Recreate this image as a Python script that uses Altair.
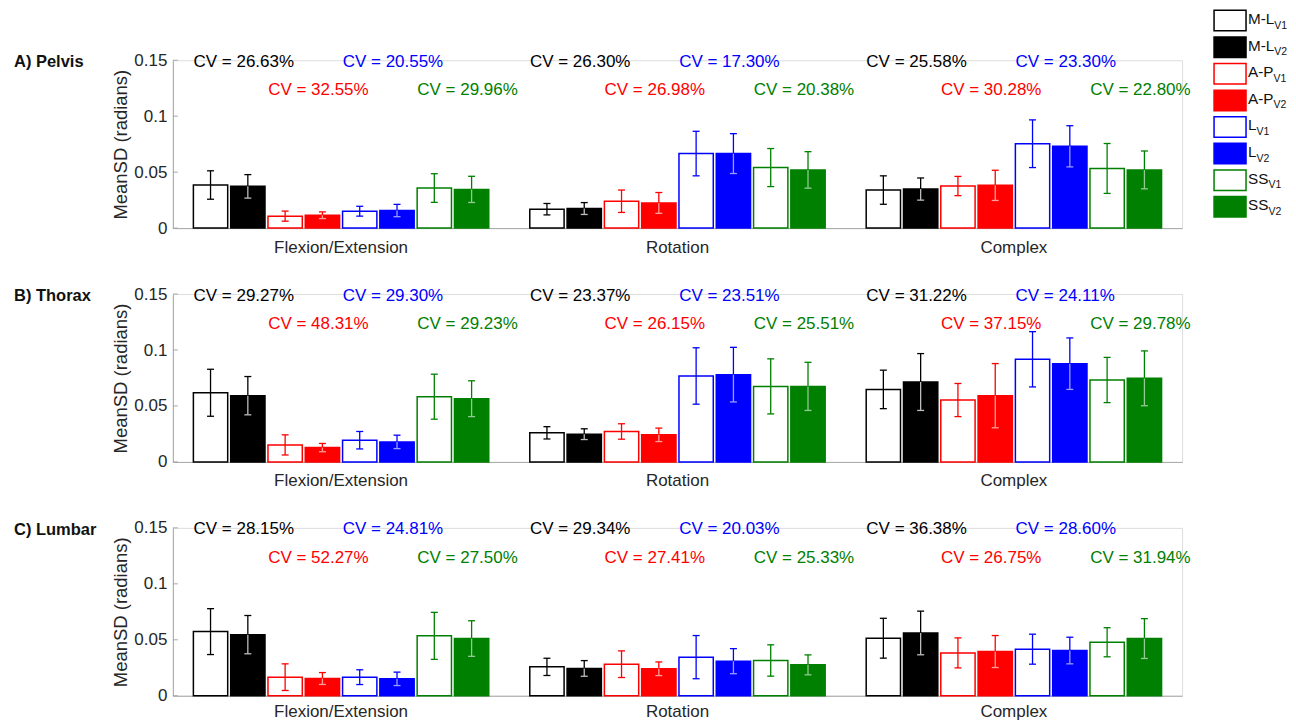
import altair as alt
import pandas as pd

# ---------------- data ----------------
movements = ["Flexion/Extension", "Rotation", "Complex"]
series = ["M-L V1", "M-L V2", "A-P V1", "A-P V2", "L V1", "L V2", "SS V1", "SS V2"]
pairs = ["M-L", "A-P", "L", "SS"]
panel_labels = ["A) Pelvis", "B) Thorax", "C) Lumbar"]
y_ticks = [0, 0.05, 0.1, 0.15]

# mean of MeanSD per movement (rows) x series (cols)
pelvis_mean = [
    [0.0385, 0.0373, 0.0107, 0.0115, 0.0151, 0.0157, 0.0358, 0.0346],
    [0.0169, 0.0175, 0.0240, 0.0225, 0.0666, 0.0666, 0.0541, 0.0520],
    [0.0340, 0.0349, 0.0376, 0.0382, 0.0754, 0.0731, 0.0533, 0.0520],
]
pelvis_sd = [
    [0.0127, 0.0105, 0.0045, 0.0030, 0.0044, 0.0055, 0.0128, 0.0117],
    [0.0051, 0.0053, 0.0100, 0.0093, 0.0199, 0.0178, 0.0170, 0.0163],
    [0.0127, 0.0099, 0.0086, 0.0135, 0.0213, 0.0184, 0.0223, 0.0169],
]
thorax_mean = [
    [0.0618, 0.0592, 0.0152, 0.0128, 0.0194, 0.0179, 0.0583, 0.0565],
    [0.0260, 0.0248, 0.0272, 0.0242, 0.0768, 0.0780, 0.0675, 0.0675],
    [0.0648, 0.0714, 0.0553, 0.0592, 0.0917, 0.0878, 0.0732, 0.0747],
]
thorax_sd = [
    [0.0210, 0.0171, 0.0090, 0.0037, 0.0078, 0.0060, 0.0201, 0.0160],
    [0.0055, 0.0048, 0.0069, 0.0060, 0.0252, 0.0244, 0.0246, 0.0215],
    [0.0172, 0.0254, 0.0148, 0.0287, 0.0247, 0.0230, 0.0202, 0.0245],
]
lumbar_mean = [
    [0.0573, 0.0546, 0.0166, 0.0154, 0.0166, 0.0151, 0.0535, 0.0511],
    [0.0258, 0.0244, 0.0282, 0.0241, 0.0345, 0.0309, 0.0315, 0.0276],
    [0.0514, 0.0561, 0.0383, 0.0395, 0.0416, 0.0404, 0.0478, 0.0511],
]
lumbar_sd = [
    [0.0205, 0.0171, 0.0119, 0.0053, 0.0066, 0.0060, 0.0210, 0.0159],
    [0.0077, 0.0070, 0.0119, 0.0061, 0.0193, 0.0112, 0.0140, 0.0089],
    [0.0178, 0.0195, 0.0134, 0.0143, 0.0134, 0.0119, 0.0130, 0.0178],
]

# CV (%) per movement, in pair order M-L, A-P, L, SS
pelvis_cv = [[26.63, 32.55, 20.55, 29.96], [26.30, 26.98, 17.30, 20.38], [25.58, 30.28, 23.30, 22.80]]
thorax_cv = [[29.27, 48.31, 29.30, 29.23], [23.37, 26.15, 23.51, 25.51], [31.22, 37.15, 24.11, 29.78]]
lumbar_cv = [[28.15, 52.27, 24.81, 27.50], [29.34, 27.41, 20.03, 25.33], [36.38, 26.75, 28.60, 31.94]]

means = [pelvis_mean, thorax_mean, lumbar_mean]
sds = [pelvis_sd, thorax_sd, lumbar_sd]
cvs = [pelvis_cv, thorax_cv, lumbar_cv]

# ---------------- style ----------------
FONT = "Liberation Sans"
TXT = "#262626"
GRAY = "#a8a8a8"
pair_colors = {"M-L": "#000000", "A-P": "#ff0000", "L": "#0000ff", "SS": "#008000"}
pair_tints = {"M-L": "#bdbdbd", "A-P": "#ff9c9c", "L": "#9c9cff", "SS": "#93c993"}
cv_row = {"M-L": 0.15, "L": 0.15, "A-P": 0.1245, "SS": 0.1245}


def bar_frame(k):
    rows = []
    for mi, mv in enumerate(movements):
        for si, s in enumerate(series):
            pair, visit = s.split(" ")
            m = means[k][mi][si]
            d = sds[k][mi][si]
            rows.append(dict(
                movement=mv, series=s, pair=pair, visit=visit, mean=m,
                lo=m - d, hi=m + d,
                fill=pair_colors[pair] if visit == "V2" else "#ffffff",
                stroke=pair_colors[pair],
                locolor=pair_tints[pair] if visit == "V2" else pair_colors[pair],
            ))
    return pd.DataFrame(rows)


def cv_frame(k):
    rows = []
    for mi, mv in enumerate(movements):
        for pi, p in enumerate(pairs):
            rows.append(dict(movement=mv, series=p + " V1", pair=p,
                             text=f"CV = {cvs[k][mi][pi]:.2f}%",
                             color=pair_colors[p], row=cv_row[p]))
    return pd.DataFrame(rows)


yscale = alt.Scale(domain=[0, 0.15], nice=False, zero=True)
yaxis = alt.Axis(values=y_ticks, format=".2~f", tickSize=0, labelPadding=6,
                 grid=False, domainColor=GRAY, labelFontSize=17,
                 labelColor=TXT, labelFont=FONT,
                 title="MeanSD (radians)", titleFontSize=18.5,
                 titleFontWeight="normal", titleColor=TXT, titleFont=FONT,
                 titlePadding=3)
xoff = alt.XOffset("series:N", sort=series,
                   scale=alt.Scale(domain=series, paddingInner=0.08, paddingOuter=0.55))


def Xn(pad):
    return alt.X(
        "movement:N", sort=movements,
        scale=alt.Scale(domain=movements, paddingInner=0, paddingOuter=0),
        axis=alt.Axis(title=None, labelAngle=0, ticks=False, labelPadding=pad,
                      domainColor=GRAY, labelFontSize=17, labelColor=TXT, labelFont=FONT),
    )


def Yq(field):
    return alt.Y(field, scale=yscale, axis=yaxis)


def panel(k, pad):
    df = bar_frame(k)
    cvdf = cv_frame(k)
    xenc = Xn(pad)
    base = alt.Chart(df)
    bars = base.mark_bar(strokeWidth=1.5).encode(
        x=xenc, xOffset=xoff, y=Yq("mean:Q"),
        fill=alt.Fill("fill:N", scale=None),
        stroke=alt.Stroke("stroke:N", scale=None),
    )
    err = base.mark_rule(strokeWidth=1.3).encode(
        x=xenc, xOffset=xoff, y=Yq("lo:Q"), y2="hi:Q",
        color=alt.Color("stroke:N", scale=None),
    )
    inner = alt.Chart(df[df.visit == "V2"]).mark_rule(strokeWidth=1.3).encode(
        x=xenc, xOffset=xoff, y=Yq("lo:Q"), y2="mean:Q",
        color=alt.Color("locolor:N", scale=None),
    )
    cap_hi = base.mark_tick(size=7, thickness=1.3, opacity=1).encode(
        x=xenc, xOffset=xoff, y=Yq("hi:Q"),
        color=alt.Color("stroke:N", scale=None),
    )
    cap_lo = base.mark_tick(size=7, thickness=1.3, opacity=1).encode(
        x=xenc, xOffset=xoff, y=Yq("lo:Q"),
        color=alt.Color("locolor:N", scale=None),
    )
    cvtext = alt.Chart(cvdf).mark_text(align="left", baseline="middle", dx=-17, dy=1.5,
                                       fontSize=17, font=FONT).encode(
        x=xenc, xOffset=xoff, y=Yq("row:Q"),
        text="text:N",
        color=alt.Color("color:N", scale=None),
    )
    lab = alt.Chart(pd.DataFrame({"t": [panel_labels[k]], "v": [0.15]})).mark_text(
        align="left", baseline="middle", dy=2, fontSize=16.5, fontWeight="bold",
        font=FONT, color="#111111").encode(
        x=alt.value(-159), y=Yq("v:Q"), text="t:N")
    yt = alt.Chart(pd.DataFrame({"v": y_ticks})).mark_rule(color=GRAY).encode(
        y=Yq("v:Q"), x=alt.value(0), x2=alt.value(5))
    return alt.layer(bars, err, inner, cap_hi, cap_lo, cvtext, lab, yt)


# ---------------- legend (inside panel A) ----------------
char_w = {"M": 0.833, "-": 0.333, "L": 0.556, "A": 0.667, "P": 0.667, "S": 0.667}
LEG_FS = 15.3
LEG_X = 1042
leg_rows = []
for s in series:
    pair, visit = s.split(" ")
    w = sum(char_w[c] for c in pair) * LEG_FS
    leg_rows.append(dict(series=s, main=pair, sub=visit,
                         fill=pair_colors[pair] if visit == "V2" else "#ffffff",
                         stroke=pair_colors[pair], subx=LEG_X + 34 + w))
leg_df = pd.DataFrame(leg_rows)
ly = alt.Y("series:N", sort=series,
           scale=alt.Scale(domain=series, range=[-53, 160], paddingInner=0.23, paddingOuter=0.115),
           axis=None)
lbase = alt.Chart(leg_df)
lboxes = lbase.mark_rect(strokeWidth=1.5).encode(
    x=alt.value(LEG_X), x2=alt.value(LEG_X + 32), y=ly,
    fill=alt.Fill("fill:N", scale=None), stroke=alt.Stroke("stroke:N", scale=None))
lmain = lbase.mark_text(align="left", baseline="middle", dy=-1.5, fontSize=LEG_FS,
                        font=FONT, color="#111111").encode(
    x=alt.value(LEG_X + 34), y=ly, text="main:N")
lsub = lbase.mark_text(align="left", baseline="middle", dy=5, fontSize=10.5,
                       font=FONT, color="#111111").encode(
    x=alt.X("subx:Q", scale=None), y=ly, text="sub:N")
legend = alt.layer(lboxes, lmain, lsub)

pA = alt.layer(panel(0, 11), legend).resolve_scale(y="independent", x="independent").properties(width=1010, height=168)
pB = panel(1, 11).properties(width=1010, height=168)
pC = panel(2, 8).properties(width=1010, height=168)

chart = alt.vconcat(pA, pB, pC, spacing=66, bounds="flush").properties(
    padding={"left": 5, "top": 0, "right": 0, "bottom": 0}
).configure_view(stroke=None).configure(font=FONT)

chart.save("out.html", embed_options={"renderer": "svg", "actions": False})
